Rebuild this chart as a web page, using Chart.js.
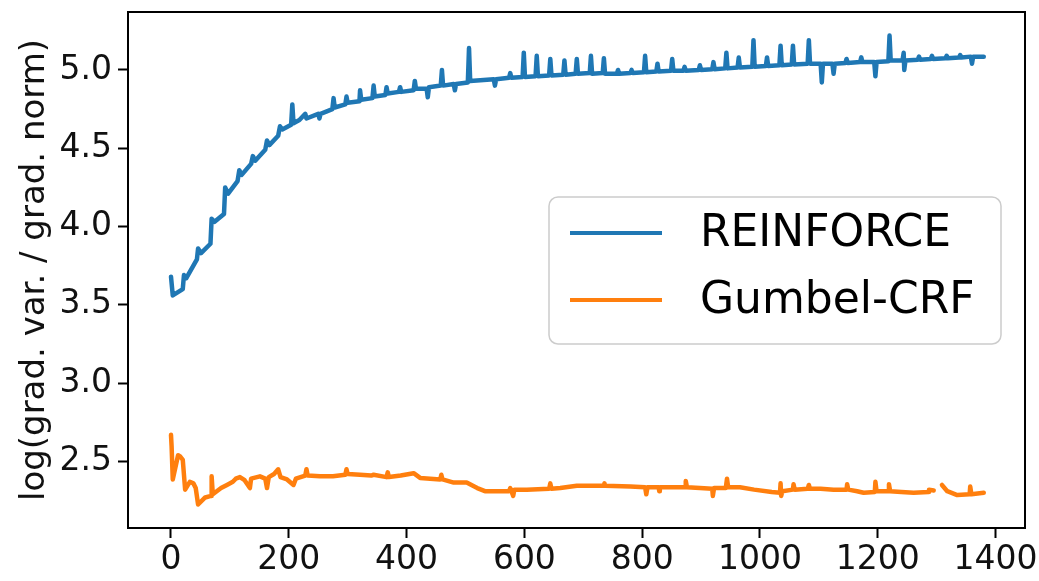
<!DOCTYPE html>
<html>
<head>
<meta charset="utf-8">
<script src="https://cdn.jsdelivr.net/npm/chart.js@4/dist/chart.umd.min.js"></script>
<style>
  body { margin: 0; background: #fff; }
  #wrap { width: 1039px; height: 581px; }
</style>
</head>
<body>
<div id="wrap"><canvas id="chart" width="1039" height="581"></canvas></div>
<script>
// Training step vs. log(grad var / grad norm)
const reinforceSteps = [0,3,20,22,26,44,46,51,67,69,74,90,92,97,113,116,120,136,139,143,160,163,167,182,185,189,204,206,208,218,228,230,250,252,254,274,276,278,296,298,300,320,321,323,342,344,346,364,366,368,387,389,391,412,414,416,434,436,438,458,460,462,480,482,484,504,506,508,548,550,552,574,576,578,597,599,601,619,621,623,642,644,646,666,668,670,687,689,691,711,713,715,733,735,737,757,759,761,780,782,784,803,805,807,824,826,828,849,851,853,870,872,874,896,898,900,919,921,923,941,943,945,962,964,966,987,989,991,1010,1012,1014,1033,1035,1037,1054,1056,1058,1081,1083,1085,1103,1105,1107,1123,1125,1127,1145,1147,1149,1170,1172,1174,1194,1196,1198,1218,1220,1222,1242,1244,1245,1247,1268,1270,1272,1290,1292,1294,1315,1317,1319,1338,1340,1342,1358,1360,1362,1380];
const reinforceValues = [3.68,3.56,3.60,3.69,3.67,3.79,3.86,3.83,3.89,4.05,4.03,4.08,4.25,4.21,4.29,4.36,4.33,4.40,4.45,4.42,4.49,4.55,4.52,4.58,4.64,4.62,4.65,4.78,4.66,4.68,4.72,4.69,4.72,4.69,4.72,4.75,4.82,4.76,4.78,4.83,4.79,4.80,4.87,4.81,4.82,4.90,4.83,4.84,4.89,4.85,4.86,4.89,4.86,4.87,4.93,4.88,4.88,4.825,4.89,4.90,5.00,4.90,4.91,4.87,4.91,4.92,5.14,4.93,4.94,4.90,4.94,4.95,4.98,4.95,4.955,5.11,4.955,4.96,5.09,4.96,4.965,5.07,4.965,4.97,5.06,4.97,4.975,5.07,4.975,4.98,5.09,4.975,4.98,5.075,4.975,4.975,5.00,4.975,4.98,5.00,4.98,4.985,5.09,4.985,4.99,5.04,4.99,4.995,5.07,4.995,4.995,5.02,4.995,5.00,5.03,5.00,5.005,5.05,5.005,5.01,5.11,5.01,5.015,5.08,5.015,5.02,5.19,5.02,5.025,5.08,5.025,5.03,5.155,5.03,5.035,5.155,5.035,5.04,5.19,5.04,5.04,4.92,5.04,5.04,4.975,5.04,5.045,5.07,5.045,5.05,5.08,5.05,5.05,4.96,5.05,5.055,5.22,5.06,5.06,5.11,5.00,5.06,5.065,5.085,5.065,5.07,5.09,5.07,5.075,5.09,5.075,5.08,5.095,5.08,5.085,5.04,5.085,5.085];

const gumbelSteps = [0,1,3,12,16,20,24,32,38,42,46,58,68,69,71,85,95,105,110,117,125,134,136,151,160,163,166,175,182,186,197,208,212,228,230,232,253,275,296,298,300,321,340,344,366,368,370,390,412,423,440,457,459,461,480,502,520,533,565,574,576,578,581,583,604,642,644,646,661,689,735,736,737,780,805,807,809,828,829,830,850,873,874,876,898,919,920,922,942,944,946,966,990,1020,1034,1035,1036,1038,1056,1057,1059,1081,1083,1085,1103,1125,1147,1148,1150,1165,1176,1195,1196,1198,1218,1219,1221,1240,1261,1286,1287,1295,1302,1309,1318,1335,1356,1357,1359,1380];
const gumbelValues = [2.67,2.60,2.385,2.54,2.53,2.51,2.32,2.37,2.36,2.33,2.225,2.27,2.28,2.405,2.29,2.33,2.35,2.37,2.39,2.40,2.38,2.33,2.39,2.405,2.39,2.33,2.40,2.42,2.45,2.40,2.385,2.35,2.39,2.41,2.45,2.41,2.405,2.405,2.415,2.45,2.42,2.415,2.41,2.415,2.40,2.43,2.40,2.41,2.425,2.395,2.39,2.385,2.415,2.385,2.365,2.365,2.33,2.31,2.31,2.31,2.33,2.31,2.28,2.32,2.32,2.325,2.36,2.325,2.33,2.345,2.345,2.36,2.345,2.34,2.335,2.29,2.335,2.335,2.31,2.335,2.335,2.335,2.375,2.335,2.33,2.325,2.28,2.33,2.33,2.39,2.335,2.335,2.32,2.305,2.30,2.36,2.28,2.31,2.32,2.355,2.32,2.325,2.35,2.325,2.325,2.32,2.32,2.355,2.32,2.31,2.30,2.305,2.37,2.31,2.31,2.355,2.31,2.305,2.30,2.305,2.32,2.315,null,2.35,2.31,2.285,2.29,2.34,2.29,2.30];

const xTicks = [0, 200, 400, 600, 800, 1000, 1200, 1400];
const yTicks = [2.5, 3.0, 3.5, 4.0, 4.5, 5.0];
const seriesNames = ['REINFORCE', 'Gumbel-CRF'];
const seriesColors = ['#1f77b4', '#ff7f0e'];

const toPoints = (xs, ys) => xs.map((x, i) => ({ x: x, y: ys[i] }));

const FONT = 'DejaVu Sans';

// frame around plot area (matplotlib spines)
const framePlugin = {
  id: 'frame',
  afterDatasetsDraw(chart) {
    const { ctx, chartArea } = chart;
    ctx.save();
    ctx.strokeStyle = '#000';
    ctx.lineWidth = 2;
    ctx.strokeRect(chartArea.left, chartArea.top, chartArea.right - chartArea.left, chartArea.bottom - chartArea.top);
    ctx.restore();
  }
};

// legend box drawn inside the axes, like matplotlib
const legendPlugin = {
  id: 'boxLegend',
  afterDraw(chart) {
    const ctx = chart.ctx;
    const x = 549, y = 197, w = 452, h = 147, r = 9;
    ctx.save();
    ctx.beginPath();
    ctx.roundRect(x, y, w, h, r);
    ctx.fillStyle = 'rgba(255,255,255,0.8)';
    ctx.fill();
    ctx.strokeStyle = '#cccccc';
    ctx.lineWidth = 1.5;
    ctx.stroke();
    chart.data.datasets.forEach((ds, i) => {
      const ly = 233 + i * 67;
      ctx.beginPath();
      ctx.moveTo(570, ly);
      ctx.lineTo(662, ly);
      ctx.strokeStyle = ds.borderColor;
      ctx.lineWidth = 4;
      ctx.stroke();
      ctx.fillStyle = '#000';
      ctx.font = '44px "' + FONT + '"';
      ctx.textBaseline = 'middle';
      ctx.textAlign = 'left';
      ctx.fillText(ds.label, 700, ly + 2);
    });
    ctx.restore();
  }
};

const lineStyle = {
  showLine: true,
  borderWidth: 4.5,
  borderJoinStyle: 'round',
  borderCapStyle: 'round',
  pointRadius: 0,
  tension: 0,
  spanGaps: false
};

new Chart(document.getElementById('chart'), {
  type: 'scatter',
  data: {
    datasets: [
      Object.assign({
        label: seriesNames[0],
        data: toPoints(reinforceSteps, reinforceValues),
        borderColor: seriesColors[0],
        backgroundColor: seriesColors[0]
      }, lineStyle),
      Object.assign({
        label: seriesNames[1],
        data: toPoints(gumbelSteps, gumbelValues),
        borderColor: seriesColors[1],
        backgroundColor: seriesColors[1]
      }, lineStyle)
    ]
  },
  options: {
    responsive: false,
    animation: false,
    devicePixelRatio: 1,
    layout: { padding: { top: 12, right: 14, left: 0, bottom: 0 } },
    plugins: {
      legend: { display: false },
      tooltip: { enabled: false }
    },
    scales: {
      x: {
        type: 'linear',
        min: -73,
        max: 1450,
        afterFit: (scale) => { scale.height = 53; scale.paddingLeft = 0; scale.paddingRight = 0; },
        afterBuildTicks: (scale) => { scale.ticks = xTicks.map(v => ({ value: v })); },
        grid: { drawOnChartArea: false, tickLength: 10, tickWidth: 2, tickColor: '#000' },
        border: { display: false },
        ticks: {
          color: '#111',
          padding: 3,
          maxRotation: 0,
          font: { family: FONT, size: 33 },
          callback: (v) => String(v)
        }
      },
      y: {
        type: 'linear',
        min: 2.075,
        max: 5.37,
        afterFit: (scale) => { scale.width = 128; scale.paddingTop = 0; scale.paddingBottom = 0; },
        afterBuildTicks: (scale) => { scale.ticks = yTicks.map(v => ({ value: v })); },
        grid: { drawOnChartArea: false, tickLength: 10, tickWidth: 2, tickColor: '#000' },
        border: { display: false },
        ticks: {
          color: '#111',
          padding: 6,
          font: { family: FONT, size: 33 },
          callback: (v) => v.toFixed(1)
        },
        title: {
          display: true,
          text: 'log(grad. var. / grad. norm)',
          color: '#111',
          font: { family: FONT, size: 34 },
          padding: { top: 15, bottom: 0 }
        }
      }
    }
  },
  plugins: [framePlugin, legendPlugin]
});
</script>
</body>
</html>
